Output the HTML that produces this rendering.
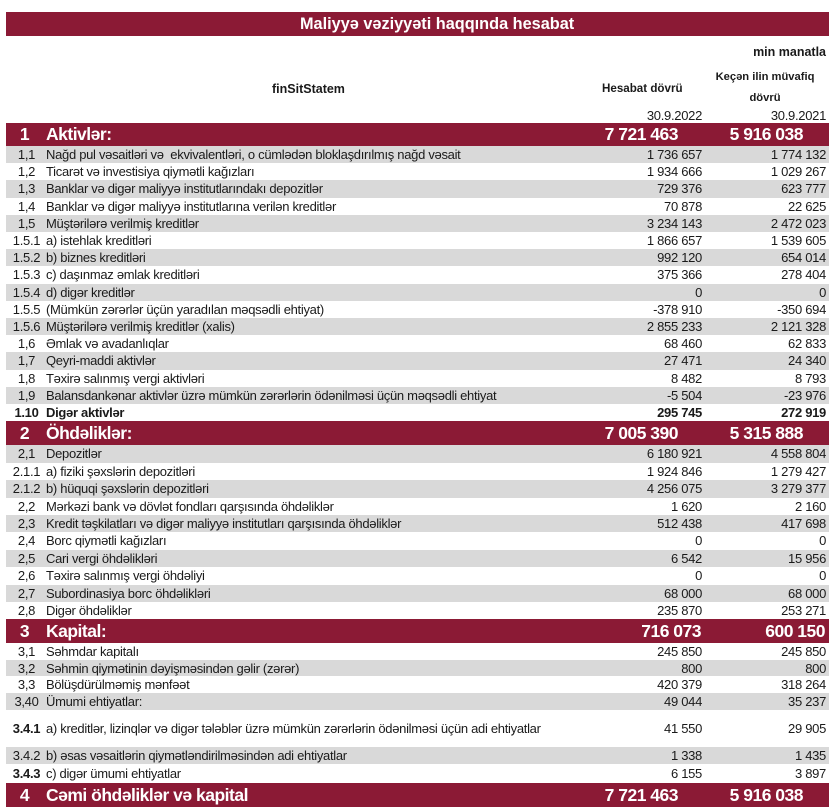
<!DOCTYPE html>
<html>
<head>
<meta charset="utf-8">
<style>
*{margin:0;padding:0;box-sizing:border-box}
html,body{width:838px;height:811px;background:#fff;overflow:hidden}
body{position:relative;font-family:"Liberation Sans",Arial,sans-serif;color:#1a1a1a;font-size:13px;letter-spacing:-0.3px}
.a{position:absolute;white-space:nowrap}
.r{position:absolute;left:6px;width:823px;white-space:nowrap}
.g{background:#d9d9d9}
.r .c{position:absolute;left:0;width:41px;text-align:center}
.r .l{position:absolute;left:40px}
.r .v1{position:absolute;right:127px}
.r .v2{position:absolute;right:3px}
.b{font-weight:bold}
.s{background:#8b1a35;color:#fff;font-weight:bold;font-size:17.5px;letter-spacing:-0.5px}
.s .c{width:37px}
.s .v1{right:151px}
.s .v2{right:26px}
</style>
</head>
<body>
<div class="a" style="left:6px;top:12px;width:823px;height:24px;background:#8b1a35"></div>
<div class="a b" style="left:300px;top:12px;height:24px;line-height:24px;color:#fff;font-size:16.3px;letter-spacing:0">Maliyyə vəziyyəti haqqında hesabat</div>
<div class="a b" style="right:12px;top:44px;line-height:16px;font-size:12.5px;letter-spacing:0">min manatla</div>
<div class="a b" style="left:272px;top:81px;line-height:16px;font-size:12.5px;letter-spacing:0">finSitStatem</div>
<div class="a b" style="left:602px;top:81px;line-height:16px;font-size:11.6px;letter-spacing:0">Hesabat dövrü</div>
<div class="a b" style="left:704px;top:67px;width:122px;text-align:center;line-height:20.5px;font-size:11.2px;letter-spacing:0">Keçən ilin müvafiq<br>dövrü</div>
<div class="a" style="right:136px;top:108px;line-height:16px">30.9.2022</div>
<div class="a" style="right:12px;top:108px;line-height:16px">30.9.2021</div>

<div class="r s" style="top:123px;height:23px;line-height:23px"><span class="c">1</span><span class="l">Aktivlər:</span><span class="v1">7 721 463</span><span class="v2">5 916 038</span></div>
<div class="r g" style="top:146px;height:17px;line-height:18px"><span class="c">1,1</span><span class="l">Nağd pul vəsaitləri və&nbsp; ekvivalentləri, o cümlədən bloklaşdırılmış nağd vəsait</span><span class="v1">1 736 657</span><span class="v2">1 774 132</span></div>
<div class="r" style="top:163px;height:17px;line-height:18px"><span class="c">1,2</span><span class="l">Ticarət və investisiya qiymətli kağızları</span><span class="v1">1 934 666</span><span class="v2">1 029 267</span></div>
<div class="r g" style="top:180px;height:18px;line-height:18px"><span class="c">1,3</span><span class="l">Banklar və digər maliyyə institutlarındakı depozitlər</span><span class="v1">729 376</span><span class="v2">623 777</span></div>
<div class="r" style="top:198px;height:17px;line-height:17px"><span class="c">1,4</span><span class="l">Banklar və digər maliyyə institutlarına verilən kreditlər</span><span class="v1">70 878</span><span class="v2">22 625</span></div>
<div class="r g" style="top:215px;height:17px;line-height:17px"><span class="c">1,5</span><span class="l">Müştərilərə verilmiş kreditlər</span><span class="v1">3 234 143</span><span class="v2">2 472 023</span></div>
<div class="r" style="top:232px;height:17px;line-height:17px"><span class="c">1.5.1</span><span class="l">a) istehlak kreditləri</span><span class="v1">1 866 657</span><span class="v2">1 539 605</span></div>
<div class="r g" style="top:249px;height:17px;line-height:17px"><span class="c">1.5.2</span><span class="l">b) biznes kreditləri</span><span class="v1">992 120</span><span class="v2">654 014</span></div>
<div class="r" style="top:266px;height:18px;line-height:18px"><span class="c">1.5.3</span><span class="l">c) daşınmaz əmlak kreditləri</span><span class="v1">375 366</span><span class="v2">278 404</span></div>
<div class="r g" style="top:284px;height:17px;line-height:17px"><span class="c">1.5.4</span><span class="l">d) digər kreditlər</span><span class="v1">0</span><span class="v2">0</span></div>
<div class="r" style="top:301px;height:17px;line-height:17px"><span class="c">1.5.5</span><span class="l">(Mümkün zərərlər üçün yaradılan məqsədli ehtiyat)</span><span class="v1">-378 910</span><span class="v2">-350 694</span></div>
<div class="r g" style="top:318px;height:17px;line-height:17px"><span class="c">1.5.6</span><span class="l">Müştərilərə verilmiş kreditlər (xalis)</span><span class="v1">2 855 233</span><span class="v2">2 121 328</span></div>
<div class="r" style="top:335px;height:17px;line-height:17px"><span class="c">1,6</span><span class="l">Əmlak və avadanlıqlar</span><span class="v1">68 460</span><span class="v2">62 833</span></div>
<div class="r g" style="top:352px;height:18px;line-height:18px"><span class="c">1,7</span><span class="l">Qeyri-maddi aktivlər</span><span class="v1">27 471</span><span class="v2">24 340</span></div>
<div class="r" style="top:370px;height:17px;line-height:17px"><span class="c">1,8</span><span class="l">Təxirə salınmış vergi aktivləri</span><span class="v1">8 482</span><span class="v2">8 793</span></div>
<div class="r g" style="top:387px;height:17px;line-height:17px"><span class="c">1,9</span><span class="l">Balansdankənar aktivlər üzrə mümkün zərərlərin ödənilməsi üçün məqsədli ehtiyat</span><span class="v1">-5 504</span><span class="v2">-23 976</span></div>
<div class="r b" style="top:404px;height:17px;line-height:17px"><span class="c">1.10</span><span class="l">Digər aktivlər</span><span class="v1">295 745</span><span class="v2">272 919</span></div>

<div class="r s" style="top:421px;height:24px;line-height:24px"><span class="c">2</span><span class="l">Öhdəliklər:</span><span class="v1">7 005 390</span><span class="v2">5 315 888</span></div>
<div class="r g" style="top:445px;height:18px;line-height:18px"><span class="c">2,1</span><span class="l">Depozitlər</span><span class="v1">6 180 921</span><span class="v2">4 558 804</span></div>
<div class="r" style="top:463px;height:17px;line-height:17px"><span class="c">2.1.1</span><span class="l">a) fiziki şəxslərin depozitləri</span><span class="v1">1 924 846</span><span class="v2">1 279 427</span></div>
<div class="r g" style="top:480px;height:18px;line-height:18px"><span class="c">2.1.2</span><span class="l">b) hüquqi şəxslərin depozitləri</span><span class="v1">4 256 075</span><span class="v2">3 279 377</span></div>
<div class="r" style="top:498px;height:17px;line-height:17px"><span class="c">2,2</span><span class="l">Mərkəzi bank və dövlət fondları qarşısında öhdəliklər</span><span class="v1">1 620</span><span class="v2">2 160</span></div>
<div class="r g" style="top:515px;height:17px;line-height:17px"><span class="c">2,3</span><span class="l">Kredit təşkilatları və digər maliyyə institutları qarşısında öhdəliklər</span><span class="v1">512 438</span><span class="v2">417 698</span></div>
<div class="r" style="top:532px;height:18px;line-height:18px"><span class="c">2,4</span><span class="l">Borc qiymətli kağızları</span><span class="v1">0</span><span class="v2">0</span></div>
<div class="r g" style="top:550px;height:17px;line-height:17px"><span class="c">2,5</span><span class="l">Cari vergi öhdəlikləri</span><span class="v1">6 542</span><span class="v2">15 956</span></div>
<div class="r" style="top:567px;height:18px;line-height:18px"><span class="c">2,6</span><span class="l">Təxirə salınmış vergi öhdəliyi</span><span class="v1">0</span><span class="v2">0</span></div>
<div class="r g" style="top:585px;height:17px;line-height:17px"><span class="c">2,7</span><span class="l">Subordinasiya borc öhdəlikləri</span><span class="v1">68 000</span><span class="v2">68 000</span></div>
<div class="r" style="top:602px;height:17px;line-height:17px"><span class="c">2,8</span><span class="l">Digər öhdəliklər</span><span class="v1">235 870</span><span class="v2">253 271</span></div>

<div class="r s" style="top:619px;height:24px;line-height:24px"><span class="c">3</span><span class="l">Kapital:</span><span class="v1" style="right:128px">716 073</span><span class="v2" style="right:4px">600 150</span></div>
<div class="r" style="top:643px;height:17px;line-height:17px"><span class="c">3,1</span><span class="l">Səhmdar kapitalı</span><span class="v1">245 850</span><span class="v2">245 850</span></div>
<div class="r g" style="top:660px;height:16px;line-height:17px"><span class="c">3,2</span><span class="l">Səhmin qiymətinin dəyişməsindən gəlir (zərər)</span><span class="v1">800</span><span class="v2">800</span></div>
<div class="r" style="top:676px;height:17px;line-height:17px"><span class="c">3,3</span><span class="l">Bölüşdürülməmiş mənfəət</span><span class="v1">420 379</span><span class="v2">318 264</span></div>
<div class="r g" style="top:693px;height:17px;line-height:17px"><span class="c">3,40</span><span class="l">Ümumi ehtiyatlar:</span><span class="v1">49 044</span><span class="v2">35 237</span></div>
<div class="r" style="top:710px;height:37px;line-height:37px"><span class="c b">3.4.1</span><span class="l">a) kreditlər, lizinqlər və digər tələblər üzrə mümkün zərərlərin ödənilməsi üçün adi ehtiyatlar</span><span class="v1">41 550</span><span class="v2">29 905</span></div>
<div class="r g" style="top:747px;height:17px;line-height:17px"><span class="c">3.4.2</span><span class="l">b) əsas vəsaitlərin qiymətləndirilməsindən adi ehtiyatlar</span><span class="v1">1 338</span><span class="v2">1 435</span></div>
<div class="r" style="top:764px;height:19px;line-height:19px"><span class="c b">3.4.3</span><span class="l">c) digər ümumi ehtiyatlar</span><span class="v1">6 155</span><span class="v2">3 897</span></div>

<div class="r s" style="top:783px;height:24px;line-height:24px"><span class="c">4</span><span class="l">Cəmi öhdəliklər və kapital</span><span class="v1">7 721 463</span><span class="v2">5 916 038</span></div>
</body>
</html>
